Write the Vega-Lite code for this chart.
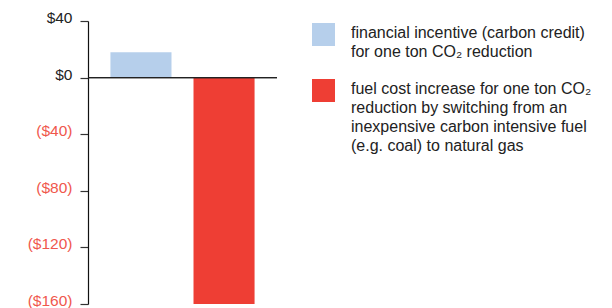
{
  "$schema": "https://vega.github.io/schema/vega-lite/v6.json",
  "autosize": "none",
  "width": 189,
  "height": 283,
  "padding": {"left": 88, "top": 21, "right": 335, "bottom": 4},
  "background": "white",
  "config": {"view": {"stroke": null}, "font": "Liberation Sans"},
  "data": {"values": [
    {"item": "a", "value": 18},
    {"item": "b", "value": -175}
  ]},
  "layer": [
    {
      "mark": {"type": "bar", "clip": true},
      "encoding": {
        "x": {"field": "item", "type": "nominal", "axis": null,
              "scale": {"paddingInner": 0.265, "paddingOuter": 0.27}},
        "y": {"field": "value", "type": "quantitative",
              "scale": {"domain": [-160, 40], "nice": false},
              "axis": {"values": [40, 0, -40, -80, -120, -160], "title": null, "grid": false,
                       "domainColor": "#111", "domainWidth": 1.2, "tickColor": "#333", "tickSize": 8, "tickWidth": 1.2,
                       "labelFontSize": 15.5, "labelPadding": 8, "labelFont": "Liberation Sans", "labelOffset": -3.5,
                       "labelExpr": "datum.value < 0 ? '($' + abs(datum.value) + ')' : '$' + datum.value",
                       "labelColor": {"condition": {"test": "datum.value < 0", "value": "#f0574d"}, "value": "#222"}}},
        "color": {"field": "item", "type": "nominal",
                  "scale": {"domain": ["a", "b"], "range": ["#b6cfeb", "#ee3e34"]},
                  "legend": {"orient": "none", "legendX": 224, "legendY": 2, "title": null,
                             "symbolType": "square", "symbolSize": 529, "symbolStrokeWidth": 0, "symbolOpacity": 1,
                             "labelFontSize": 16, "labelFont": "Liberation Sans", "labelColor": "#222", "labelLimit": 400,
                             "labelOffset": 16, "labelBaseline": "top", "rowPadding": 19,
                             "encode": {"labels": {"update": {"lineHeight": {"value": 19}, "dy": {"value": -10}}}},
                             "labelExpr": "datum.value == 'a' ? ['financial incentive (carbon credit)', 'for one ton CO₂ reduction'] : ['fuel cost increase for one ton CO₂', 'reduction by switching from an', 'inexpensive carbon intensive fuel', '(e.g. coal) to natural gas']"}}
      }
    },
    {
      "mark": {"type": "rule", "color": "#222", "strokeWidth": 1.2},
      "encoding": {"y": {"datum": 0}}
    }
  ]
}
